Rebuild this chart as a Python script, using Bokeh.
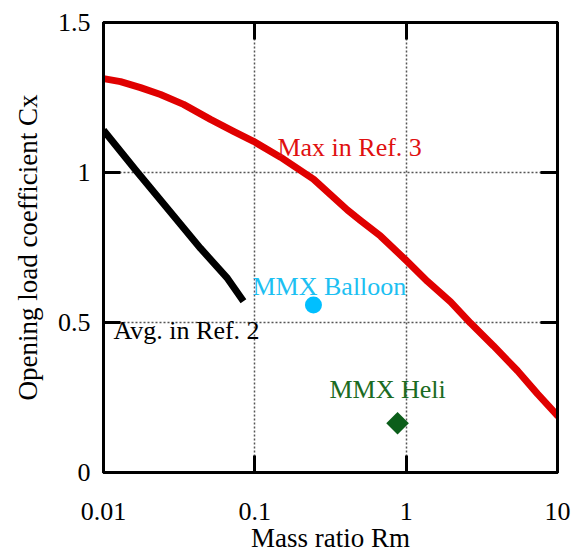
import math
from bokeh.plotting import figure
from bokeh.models import (FixedTicker, CustomJSTickFormatter, LogAxis, LinearAxis,
                          ColumnDataSource, Range1d)
from bokeh.core.properties import value
from bokeh.embed import file_html
from bokeh.resources import INLINE

# ---- data ----
max_ref3_x = [0.01, 0.01295, 0.01756, 0.0238, 0.03378, 0.0509, 0.0723, 0.098, 0.1478,
              0.244, 0.409, 0.499, 0.677, 1.0, 1.384, 1.966, 2.66, 3.78, 5.44, 7.38, 10.0]
max_ref3_y = [1.313, 1.303, 1.283, 1.260, 1.227, 1.177, 1.137, 1.104, 1.051,
              0.978, 0.875, 0.840, 0.788, 0.707, 0.637, 0.569, 0.498, 0.422, 0.339, 0.262, 0.190]

avg_ref2_x = [0.01, 0.0165, 0.029, 0.0438, 0.066, 0.0841]
avg_ref2_y = [1.141, 1.005, 0.856, 0.747, 0.647, 0.571]

balloon_x = [0.244]
balloon_y = [0.558]
heli_x = [0.877]
heli_y = [0.164]

x_ticks = [0.01, 0.1, 1, 10]
y_ticks = [0, 0.5, 1, 1.5]

labels = ["Max in Ref. 3", "MMX Balloon", "Avg. in Ref. 2", "MMX Heli"]
label_x = [0.141, 0.0965, 0.01164, 0.311]
label_y = [1.084, 0.621, 0.475, 0.2765]
label_colors = ["#E01010", "#1CC0F2", "#000000", "#1B6B22"]

x_title = "Mass ratio Rm"
y_title = "Opening load coefficient Cx"

FONT = "Liberation Serif"

p = figure(width=581, height=555, x_axis_type="log",
           x_range=Range1d(0.01, 10), y_range=Range1d(0, 1.5),
           output_backend="svg", toolbar_location=None,
           min_border_left=103, min_border_right=24,
           min_border_top=22, min_border_bottom=80)
p.background_fill_color = "white"
p.border_fill_color = "white"
p.outline_line_color = "black"
p.outline_line_width = 3

fmt = CustomJSTickFormatter(code="return tick.toString();")

# main axes
xa = p.xaxis[0]
ya = p.yaxis[0]
xa.ticker = FixedTicker(ticks=x_ticks)
ya.ticker = FixedTicker(ticks=y_ticks)
xa.formatter = fmt
ya.formatter = fmt
xa.axis_label = x_title
ya.axis_label = y_title

for ax in (xa, ya):
    ax.major_tick_in = 17
    ax.major_tick_out = 0
    ax.major_tick_line_width = 3
    ax.major_tick_line_color = "black"
    ax.minor_tick_line_color = None
    ax.axis_line_width = 3
    ax.axis_line_color = "black"
    ax.major_label_text_font = FONT
    ax.major_label_text_font_size = "26px"
    ax.major_label_text_color = "black"
    ax.axis_label_text_font = FONT
    ax.axis_label_text_font_size = "27px"
    ax.axis_label_text_font_style = "normal"
    ax.axis_label_text_color = "black"

ya.major_label_standoff = 13
ya.axis_label_standoff = 12
xa.major_label_standoff = 30
xa.axis_label_standoff = 0

# mirror axes (ticks only)
top = LogAxis(ticker=FixedTicker(ticks=x_ticks))
right = LinearAxis(ticker=FixedTicker(ticks=y_ticks))
for ax in (top, right):
    ax.major_tick_in = 17
    ax.major_tick_out = 0
    ax.major_tick_line_width = 3
    ax.major_tick_line_color = "black"
    ax.minor_tick_line_color = None
    ax.axis_line_width = 3
    ax.axis_line_color = "black"
    ax.major_label_text_font_size = "0px"
    ax.major_label_text_color = None
    ax.major_label_standoff = 0
p.add_layout(top, "above")
p.add_layout(right, "right")

# grid
p.xgrid.ticker = FixedTicker(ticks=[t for t in x_ticks[1:-1]])
p.ygrid.ticker = FixedTicker(ticks=[t for t in y_ticks[1:-1]])
for g in (p.xgrid[0], p.ygrid[0]):
    g.grid_line_color = "#555555"
    g.grid_line_width = 1.5
    g.grid_line_dash = "2 2"

# curves
p.line(max_ref3_x, max_ref3_y, line_color="#E00000", line_width=7, line_join="round", line_cap="round")
p.line(avg_ref2_x, avg_ref2_y, line_color="#000000", line_width=7, line_join="round", line_cap="butt")

# points
p.scatter(balloon_x, balloon_y, marker="circle", size=17, fill_color="#00BFFF", line_color=None)
p.scatter(heli_x, heli_y, marker="square", size=16, angle=math.pi / 4,
          fill_color="#0B5E1A", line_color=None)

# labels
src = ColumnDataSource(dict(x=label_x, y=label_y, text=labels, color=label_colors))
p.text(x="x", y="y", text="text", source=src, text_color="color",
       text_font=value(FONT), text_font_size="26px",
       text_align="left", text_baseline="alphabetic")

open("out.html", "w").write(file_html(p, INLINE))
